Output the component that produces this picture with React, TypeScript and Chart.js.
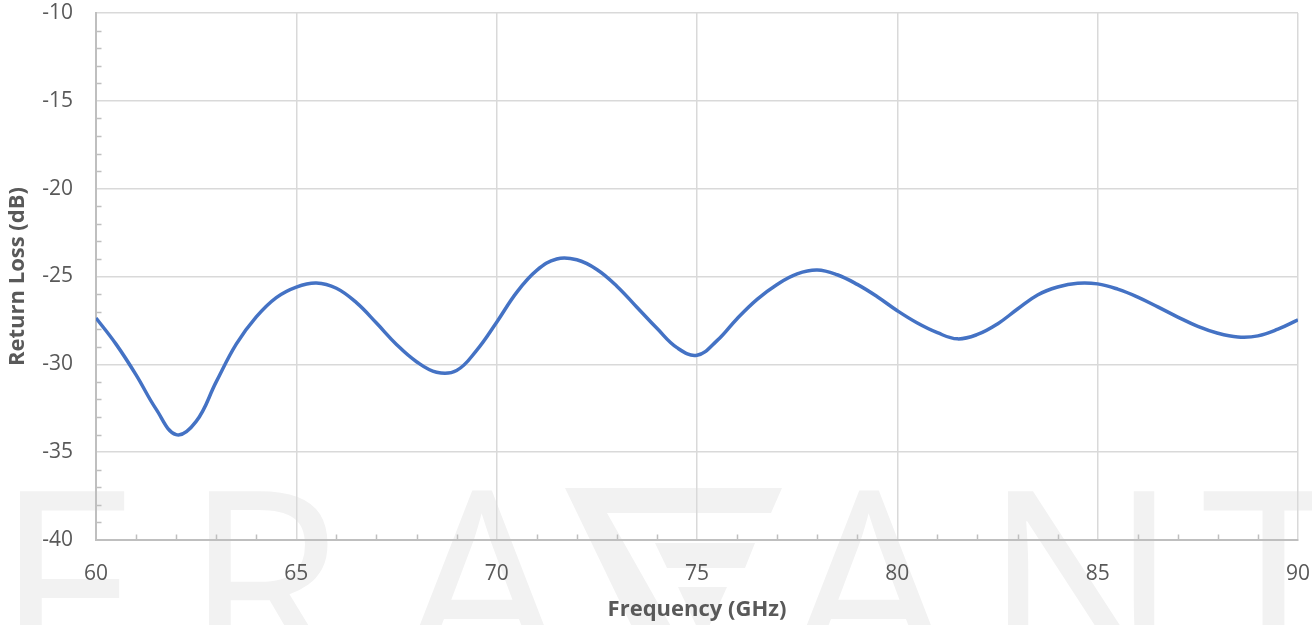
import React, { useEffect, useRef } from "react";
import { Chart, registerables } from "chart.js";

Chart.register(...registerables);

// ---------- data ----------
const FREQ_GHZ = [
  60, 60.5, 61, 61.5, 62, 62.5, 63, 63.5, 64, 64.5, 65, 65.5, 66, 66.5, 67,
  67.5, 68, 68.5, 69, 69.5, 70, 70.5, 71, 71.5, 72, 72.5, 73, 73.5, 74, 74.5,
  75, 75.5, 76, 76.5, 77, 77.5, 78, 78.5, 79, 79.5, 80, 80.5, 81, 81.5, 82,
  82.5, 83, 83.5, 84, 84.5, 85, 85.5, 86, 86.5, 87, 87.5, 88, 88.5, 89, 89.5, 90,
];
const RETURN_LOSS_DB = [
  -27.36, -28.85, -30.6, -32.55, -34.0, -33.25, -31.0, -28.85, -27.3, -26.2,
  -25.6, -25.37, -25.67, -26.49, -27.65, -28.87, -29.85, -30.45, -30.35, -29.2,
  -27.6, -25.9, -24.65, -24.0, -24.05, -24.6, -25.55, -26.75, -27.95, -29.05,
  -29.48, -28.65, -27.4, -26.3, -25.45, -24.85, -24.63, -24.9, -25.45, -26.15,
  -26.95, -27.65, -28.2, -28.55, -28.3, -27.7, -26.85, -26.05, -25.6, -25.38,
  -25.42, -25.72, -26.17, -26.73, -27.31, -27.84, -28.23, -28.44, -28.38, -28.0,
  -27.47,
];
const X_TICKS = [60, 65, 70, 75, 80, 85, 90];
const Y_TICKS = [-40, -35, -30, -25, -20, -15, -10];
const X_TITLE = "Frequency (GHz)";
const Y_TITLE = "Return Loss (dB)";
const WATERMARK_LETTERS = ["F", "R", "A", "G", "A", "N", "T"];

const FONT = "'Open Sans', 'Noto Sans', sans-serif";
const TEXT_COLOR = "#595959";
const GRID_COLOR = "#d9d9d9";
const AXIS_COLOR = "#bfbfbf";
const LINE_COLOR = "#4472c4";
const WM_COLOR = "#f2f2f2";

// ---------- plugins ----------
const watermarkPlugin = {
  id: "watermark",
  beforeDraw(chart: any) {
    const ctx = chart.ctx as CanvasRenderingContext2D;
    ctx.save();
    ctx.fillStyle = WM_COLOR;
    ctx.font = `500 262px ${FONT}`;
    ctx.textAlign = "left";
    ctx.textBaseline = "alphabetic";
    const top = 490;
    const place: Array<[string, number]> = [
      ["l", 19],
      ["l", 208],
      ["c", 483],
      ["g", 0],
      ["c", 870],
      ["l", 1007],
      ["c", 1273],
    ];
    WATERMARK_LETTERS.forEach((ch, i) => {
      const [mode, v] = place[i];
      if (mode === "g") {
        const polys = [
          [
            [565, 488],
            [782, 488],
            [771, 513],
            [607, 513],
            [690, 660],
            [648, 660],
          ],
          [
            [655, 543],
            [755, 543],
            [745, 568],
            [667, 568],
          ],
          [
            [678, 587],
            [727, 587],
            [703, 640],
          ],
        ];
        polys.forEach((p) => {
          ctx.beginPath();
          ctx.moveTo(p[0][0], p[0][1]);
          for (let k = 1; k < p.length; k++) ctx.lineTo(p[k][0], p[k][1]);
          ctx.closePath();
          ctx.fill();
        });
        return;
      }
      const m = ctx.measureText(ch);
      const baseline = top + m.actualBoundingBoxAscent;
      let x: number;
      if (mode === "l") {
        x = v + m.actualBoundingBoxLeft;
      } else {
        x = v - (m.actualBoundingBoxRight - m.actualBoundingBoxLeft) / 2;
      }
      ctx.fillText(ch, x, baseline);
    });
    ctx.restore();
  },
};

const minorTicksPlugin = {
  id: "minorTicks",
  beforeDatasetsDraw(chart: any) {
    const { ctx, chartArea, scales } = chart;
    const xs = scales.x;
    const ys = scales.y;
    ctx.save();
    ctx.strokeStyle = AXIS_COLOR;
    ctx.lineWidth = 1.5;
    ctx.beginPath();
    for (let v = Y_TICKS[0]; v <= Y_TICKS[Y_TICKS.length - 1]; v += 1) {
      if (Y_TICKS.includes(v)) continue;
      const py = Math.round(ys.getPixelForValue(v)) + 0.5;
      ctx.moveTo(chartArea.left, py);
      ctx.lineTo(chartArea.left + 5.5, py);
    }
    for (let v = X_TICKS[0]; v <= X_TICKS[X_TICKS.length - 1]; v += 1) {
      if (X_TICKS.includes(v)) continue;
      const px = Math.round(xs.getPixelForValue(v)) + 0.5;
      ctx.moveTo(px, chartArea.bottom);
      ctx.lineTo(px, chartArea.bottom - 5.5);
    }
    ctx.stroke();
    ctx.restore();
  },
};

export default function App() {
  const ref = useRef<HTMLCanvasElement>(null);

  useEffect(() => {
    document.body.style.margin = "0";
    const canvas = ref.current!;
    const chart = new Chart(canvas, {
      type: "line",
      data: {
        datasets: [
          {
            data: FREQ_GHZ.map((f, i) => ({ x: f, y: RETURN_LOSS_DB[i] })),
            borderColor: LINE_COLOR,
            borderWidth: 3.5,
            pointRadius: 0,
            fill: false,
            tension: 0.4,
          },
        ],
      },
      options: {
        animation: false,
        responsive: true,
        maintainAspectRatio: false,
        layout: { padding: { top: 13, right: 14, left: 0, bottom: 0 } },
        plugins: {
          legend: { display: false },
          tooltip: { enabled: false },
        },
        scales: {
          x: {
            type: "linear",
            min: X_TICKS[0],
            max: X_TICKS[X_TICKS.length - 1],
            afterBuildTicks: (s: any) => {
              s.ticks = X_TICKS.map((v) => ({ value: v }));
            },
            afterFit: (s: any) => {
              s.height = 85;
              s.paddingLeft = 0;
              s.paddingRight = 0;
            },
            ticks: {
              color: TEXT_COLOR,
              font: { family: FONT, size: 21 },
              padding: 21,
              maxRotation: 0,
              autoSkip: false,
            },
            grid: { color: GRID_COLOR, lineWidth: 1.5, drawTicks: false },
            border: { color: AXIS_COLOR, width: 2 },
            title: {
              display: true,
              text: X_TITLE,
              color: TEXT_COLOR,
              font: { family: FONT, size: 22, weight: "bold" },
              padding: { top: 0, bottom: 2 },
            },
          },
          y: {
            type: "linear",
            min: Y_TICKS[0],
            max: Y_TICKS[Y_TICKS.length - 1],
            afterBuildTicks: (s: any) => {
              s.ticks = Y_TICKS.map((v) => ({ value: v }));
            },
            afterFit: (s: any) => {
              s.width = 96;
              s.paddingTop = 0;
              s.paddingBottom = 0;
            },
            ticks: {
              color: TEXT_COLOR,
              font: { family: FONT, size: 21 },
              padding: 23,
              autoSkip: false,
            },
            grid: { color: GRID_COLOR, lineWidth: 1.5, drawTicks: false },
            border: { color: AXIS_COLOR, width: 2 },
            title: {
              display: true,
              text: Y_TITLE,
              color: TEXT_COLOR,
              font: { family: FONT, size: 22, weight: "bold" },
              padding: { top: 5, bottom: 0 },
            },
          },
        },
      } as any,
      plugins: [watermarkPlugin, minorTicksPlugin],
    });
    return () => chart.destroy();
  }, []);

  return (
    <div style={{ width: 1312, height: 625, position: "relative" }}>
      <canvas ref={ref} />
    </div>
  );
}
